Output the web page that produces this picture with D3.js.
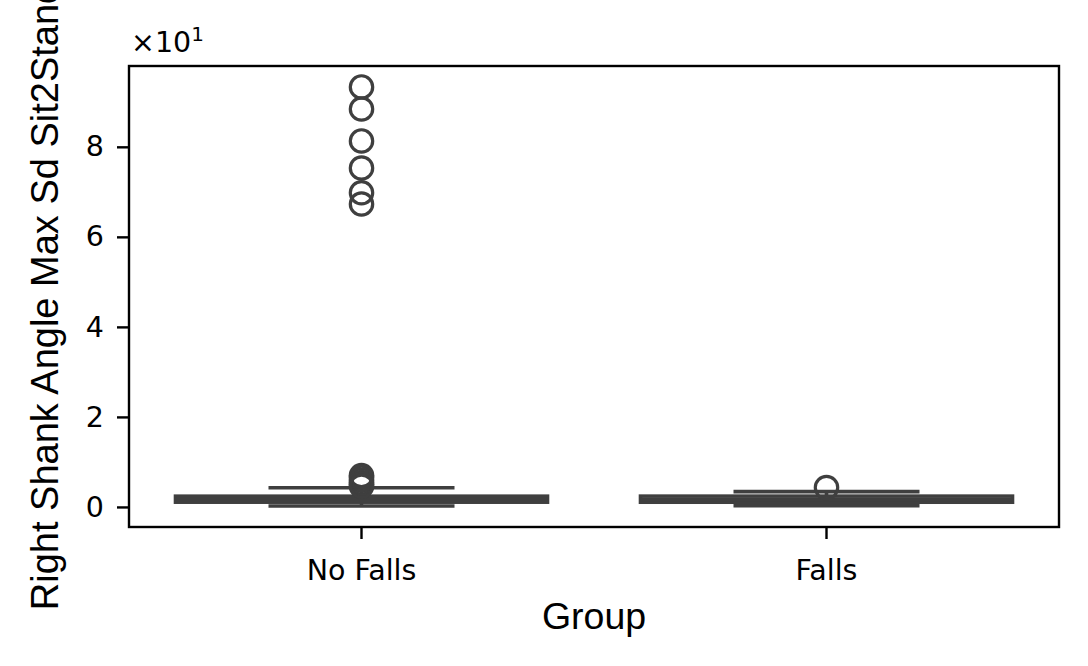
<!DOCTYPE html>
<html>
<head>
<meta charset="utf-8">
<script src="https://cdn.jsdelivr.net/npm/d3@7"></script>
<style>
  html, body { margin: 0; padding: 0; background: #fff; }
  svg { display: block; }
</style>
</head>
<body>
<svg id="chart" width="1088" height="666"></svg>
<script>
// ---- data ----
const categories = ["No Falls", "Falls"];
const whiskerLow = [0.2, 0.3];
const q1 = [1.06, 1.05];
const median = [1.7, 1.6];
const q3 = [2.39, 2.4];
const whiskerHigh = [4.27, 3.4];
const outliersNoFalls = [93.3, 88.4, 81.3, 75.3, 69.8, 67.3, 7.0, 6.6, 6.0, 5.4, 5.0, 4.6];
const outliersFalls = [4.3];
const yTickValues = [0, 20, 40, 60, 80];
const yTickLabels = ["0", "2", "4", "6", "8"];
const xLabel = "Group";
const yLabel = "Right Shank Angle Max Sd Sit2Stand";

// ---- layout ----
const mLeft = 129, mRight = 1059, mTop = 66, mBottom = 527;
const boxColor = "#3f3f3f";
const lw = 3.6;
const tickFont = "'DejaVu Sans', sans-serif";
const labelFont = "'Liberation Sans', Arial, sans-serif";
const tickSize = 28.5, labelSize = 38;

const svg = d3.select("#chart");

const outliers = [outliersNoFalls, outliersFalls];
const allVals = [].concat(whiskerLow, whiskerHigh, ...outliers);
const dmin = d3.min(allVals), dmax = d3.max(allVals);
const pad = (dmax - dmin) * 0.05;

const x = d3.scaleBand().domain(categories).range([mLeft, mRight]).padding(0);
const y = d3.scaleLinear().domain([dmin - pad, dmax + pad]).range([mBottom, mTop]);

const bw = x.bandwidth() * 0.8;
const capW = bw / 2;

const g = svg.append("g");

categories.forEach((c, i) => {
  const cx = x(c) + x.bandwidth() / 2;
  g.append("line").attr("x1", cx).attr("x2", cx)
    .attr("y1", y(q3[i])).attr("y2", y(whiskerHigh[i]))
    .attr("stroke", boxColor).attr("stroke-width", lw);
  g.append("line").attr("x1", cx).attr("x2", cx)
    .attr("y1", y(q1[i])).attr("y2", y(whiskerLow[i]))
    .attr("stroke", boxColor).attr("stroke-width", lw);
  [whiskerHigh[i], whiskerLow[i]].forEach(v => {
    g.append("line").attr("x1", cx - capW / 2).attr("x2", cx + capW / 2)
      .attr("y1", y(v)).attr("y2", y(v))
      .attr("stroke", boxColor).attr("stroke-width", lw);
  });
  g.append("rect")
    .attr("x", cx - bw / 2).attr("width", bw)
    .attr("y", y(q3[i])).attr("height", y(q1[i]) - y(q3[i]))
    .attr("fill", "#ffffff").attr("stroke", boxColor).attr("stroke-width", lw);
  g.append("line").attr("x1", cx - bw / 2).attr("x2", cx + bw / 2)
    .attr("y1", y(median[i])).attr("y2", y(median[i]))
    .attr("stroke", boxColor).attr("stroke-width", lw);
  g.selectAll(null).data(outliers[i]).enter().append("circle")
    .attr("cx", cx).attr("cy", d => y(d)).attr("r", 11.2)
    .attr("fill", "none").attr("stroke", boxColor).attr("stroke-width", 3.2);
});

svg.append("rect").attr("x", mLeft).attr("y", mTop)
  .attr("width", mRight - mLeft).attr("height", mBottom - mTop)
  .attr("fill", "none").attr("stroke", "#000").attr("stroke-width", 2.4);

const yAxis = d3.axisLeft(y).tickValues(yTickValues)
  .tickFormat((d, i) => yTickLabels[i]).tickSize(12).tickPadding(13);
const ya = svg.append("g").attr("transform", `translate(${mLeft},0)`).call(yAxis);
ya.select(".domain").remove();
ya.selectAll(".tick line").attr("stroke", "#000").attr("stroke-width", 2.4);
ya.selectAll(".tick text").attr("font-family", tickFont).attr("font-size", tickSize).attr("fill", "#000");

const xAxis = d3.axisBottom(x).tickSize(12).tickPadding(21);
const xa = svg.append("g").attr("transform", `translate(0,${mBottom})`).call(xAxis);
xa.select(".domain").remove();
xa.selectAll(".tick line").attr("stroke", "#000").attr("stroke-width", 2.4);
xa.selectAll(".tick text").attr("font-family", tickFont).attr("font-size", tickSize).attr("fill", "#000");

const off = svg.append("text").attr("x", 131).attr("y", 52)
  .attr("font-family", tickFont).attr("font-size", tickSize).attr("fill", "#000");
off.append("tspan").text("\u00d710");
off.append("tspan").attr("dy", -11).attr("font-size", 20).text("1");

svg.append("text").attr("x", (mLeft + mRight) / 2).attr("y", 629)
  .attr("text-anchor", "middle").attr("font-family", labelFont)
  .attr("font-size", 37.5).attr("fill", "#000").text(xLabel);
svg.append("text")
  .attr("transform", `translate(58,${(mTop + mBottom) / 2}) rotate(-90)`)
  .attr("text-anchor", "middle").attr("font-family", labelFont)
  .attr("font-size", labelSize).attr("fill", "#000").text(yLabel);
</script>
</body>
</html>
